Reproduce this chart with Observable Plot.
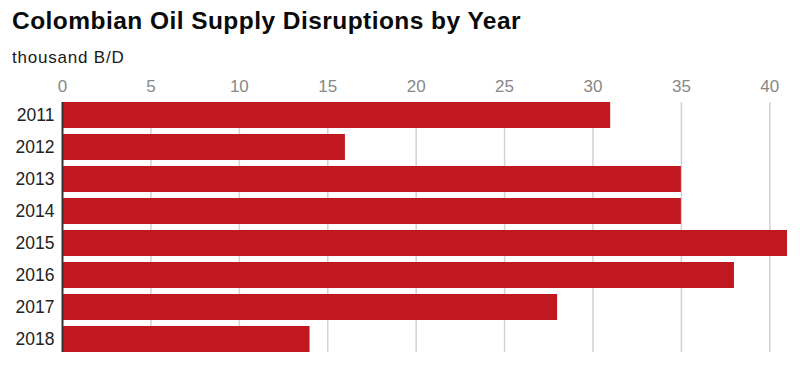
<!DOCTYPE html>
<html>
<head>
<meta charset="utf-8">
<script src="https://cdn.jsdelivr.net/npm/d3@7"></script>
<script src="https://cdn.jsdelivr.net/npm/@observablehq/plot@0.6"></script>
<style>
  body { margin: 0; background: #fff; font-family: "Liberation Sans", Arial, sans-serif; }
  #wrap { width: 800px; height: 375px; position: relative; overflow: hidden; background: #fff; }
  #head { position: relative; height: 64px; }
  #title { position: absolute; left: 12px; top: 9px; font-size: 24.5px; line-height: 24px; font-weight: bold; color: #0a0a0a; letter-spacing: 0.45px; white-space: nowrap; }
  #sub { position: absolute; left: 12px; top: 49px; font-size: 17px; line-height: 17px; color: #1a1a1a; letter-spacing: 0.8px; white-space: nowrap; }
  #chart svg { display: block; }
</style>
</head>
<body>
<div id="wrap">
  <div id="head">
    <div id="title">Colombian Oil Supply Disruptions by Year</div>
    <div id="sub">thousand B/D</div>
  </div>
  <div id="chart"></div>
</div>
<script>
const years = ["2011", "2012", "2013", "2014", "2015", "2016", "2017", "2018"];
const values = [31, 16, 35, 35, 41, 38, 28, 14];
const xTicks = [0, 5, 10, 15, 20, 25, 30, 35, 40];

const data = years.map((y, i) => ({year: y, value: values[i]}));

const chart = Plot.plot({
  width: 800,
  height: 311,
  marginLeft: 62,
  marginRight: 13,
  marginTop: 38,
  marginBottom: 23,
  style: {fontFamily: "'Liberation Sans', Arial, sans-serif", background: "white"},
  x: {domain: [0, 41], label: null},
  y: {domain: years, paddingInner: 0.1875, paddingOuter: 0, label: null},
  marks: [
    Plot.ruleX(xTicks.filter(d => d > 0), {stroke: "#d2d2d2", strokeWidth: 1.5}),
    Plot.barX(data, {x: "value", y: "year", fill: "#c1181f"}),
    Plot.ruleX([0], {stroke: "#333", strokeWidth: 2}),
    Plot.axisX({ticks: xTicks, anchor: "top", tickSize: 0, tickPadding: 11, fontSize: 17, fill: "#888", label: null}),
    Plot.axisY({anchor: "left", tickSize: 0, tickPadding: 8, fontSize: 17.5, fill: "#222", label: null})
  ]
});
document.getElementById("chart").appendChild(chart);
</script>
</body>
</html>
